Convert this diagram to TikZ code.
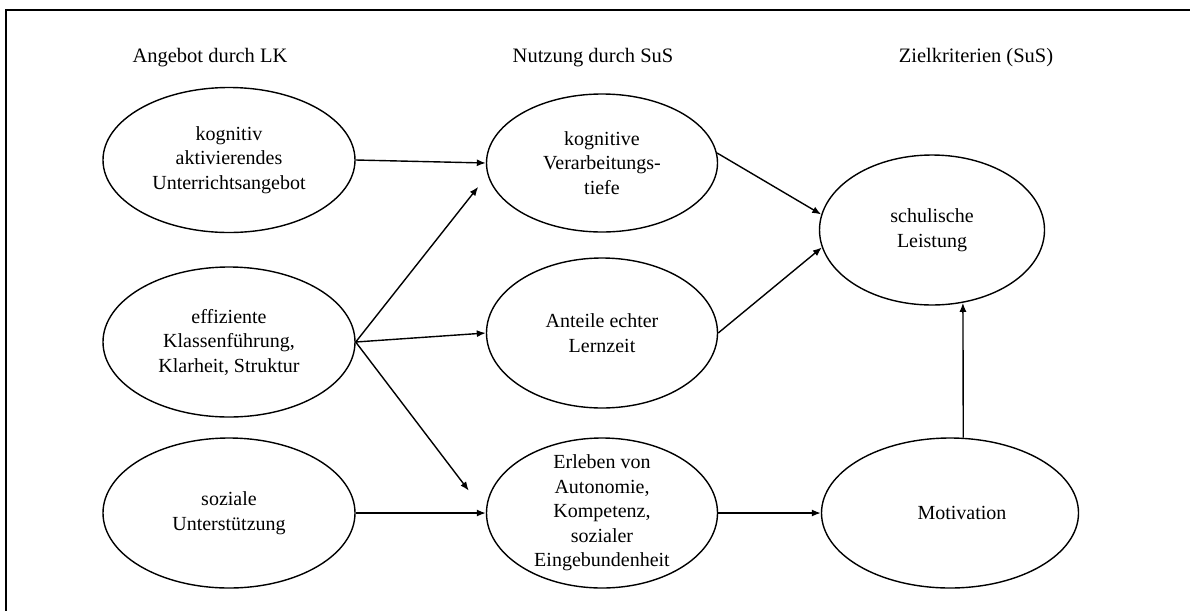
\documentclass[tikz,border=0pt]{standalone}
\usepackage{fontspec}
\setmainfont{Liberation Serif}
\usetikzlibrary{shapes.geometric,arrows.meta}
\begin{document}
\begin{tikzpicture}[x=1pt,y=-1pt,
  bubble/.style={ellipse,draw,line width=1.4pt,inner sep=-15pt,align=center,
    font=\fontsize{20}{24.5}\selectfont},
  arr/.style={-{Latex[length=9pt,width=7pt]},line width=1.4pt},
  head/.style={font=\fontsize{20.5}{24}\selectfont}]
\useasboundingbox (0,0) rectangle (1190,611);
% frame
\draw[line width=1.2pt] (1190,10) -- (6,10) -- (6,611);

% column headings
\node[head] (h1) at (210,58) {Angebot durch LK};
\node[head] (h2) at (593,58) {Nutzung durch SuS};
\node[head] (h3) at (976,58) {Zielkriterien (SuS)};

% offer
\node[bubble,minimum width=252pt,minimum height=145pt] (e1) at (229,160)
  {kognitiv\\aktivierendes\\Unterrichtsangebot};
\node[bubble,minimum width=252pt,minimum height=150pt] (e2) at (229,342)
  {effiziente\\Klassenführung,\\Klarheit, Struktur};
\node[bubble,minimum width=252pt,minimum height=150pt] (e3) at (229,513)
  {soziale\\Unterstützung};

% use
\node[bubble,minimum width=231pt,minimum height=138pt] (e4) at (602,163)
  {kognitive\\Verarbeitungs-\\tiefe};
\node[bubble,minimum width=231pt,minimum height=150pt] (e5) at (602,333)
  {Anteile echter\\Lernzeit};
\node[bubble,minimum width=231pt,minimum height=150pt] (e6) at (602,513)
  {Erleben von\\Autonomie,\\Kompetenz,\\sozialer\\Eingebundenheit};

% outcomes
\node[bubble,minimum width=225pt,minimum height=150pt] (e7) at (932,230)
  {schulische\\Leistung};
\node[bubble,minimum width=257pt,minimum height=150pt] (e8) at (950,513)
  {\hspace*{24pt}Motivation};

% connections
\draw[arr] (e1.east) -- (e4.west);
\draw[arr,shorten >=15pt] (e2.east) -- (e4.186);
\draw[arr] (e2.east) -- (e5.west);
\draw[arr,shorten >=28pt] (e2.east) -- (e6.west);
\draw[arr] (e3.east) -- (e6.west);
\draw[arr] (e4.5) -- (e7.172);
\draw[arr] (e5.east) -- (e7.189);
\draw[arr] (e6.east) -- (e8.west);
\draw[arr] (e8.80) -- (e7.293);
\end{tikzpicture}
\end{document}
